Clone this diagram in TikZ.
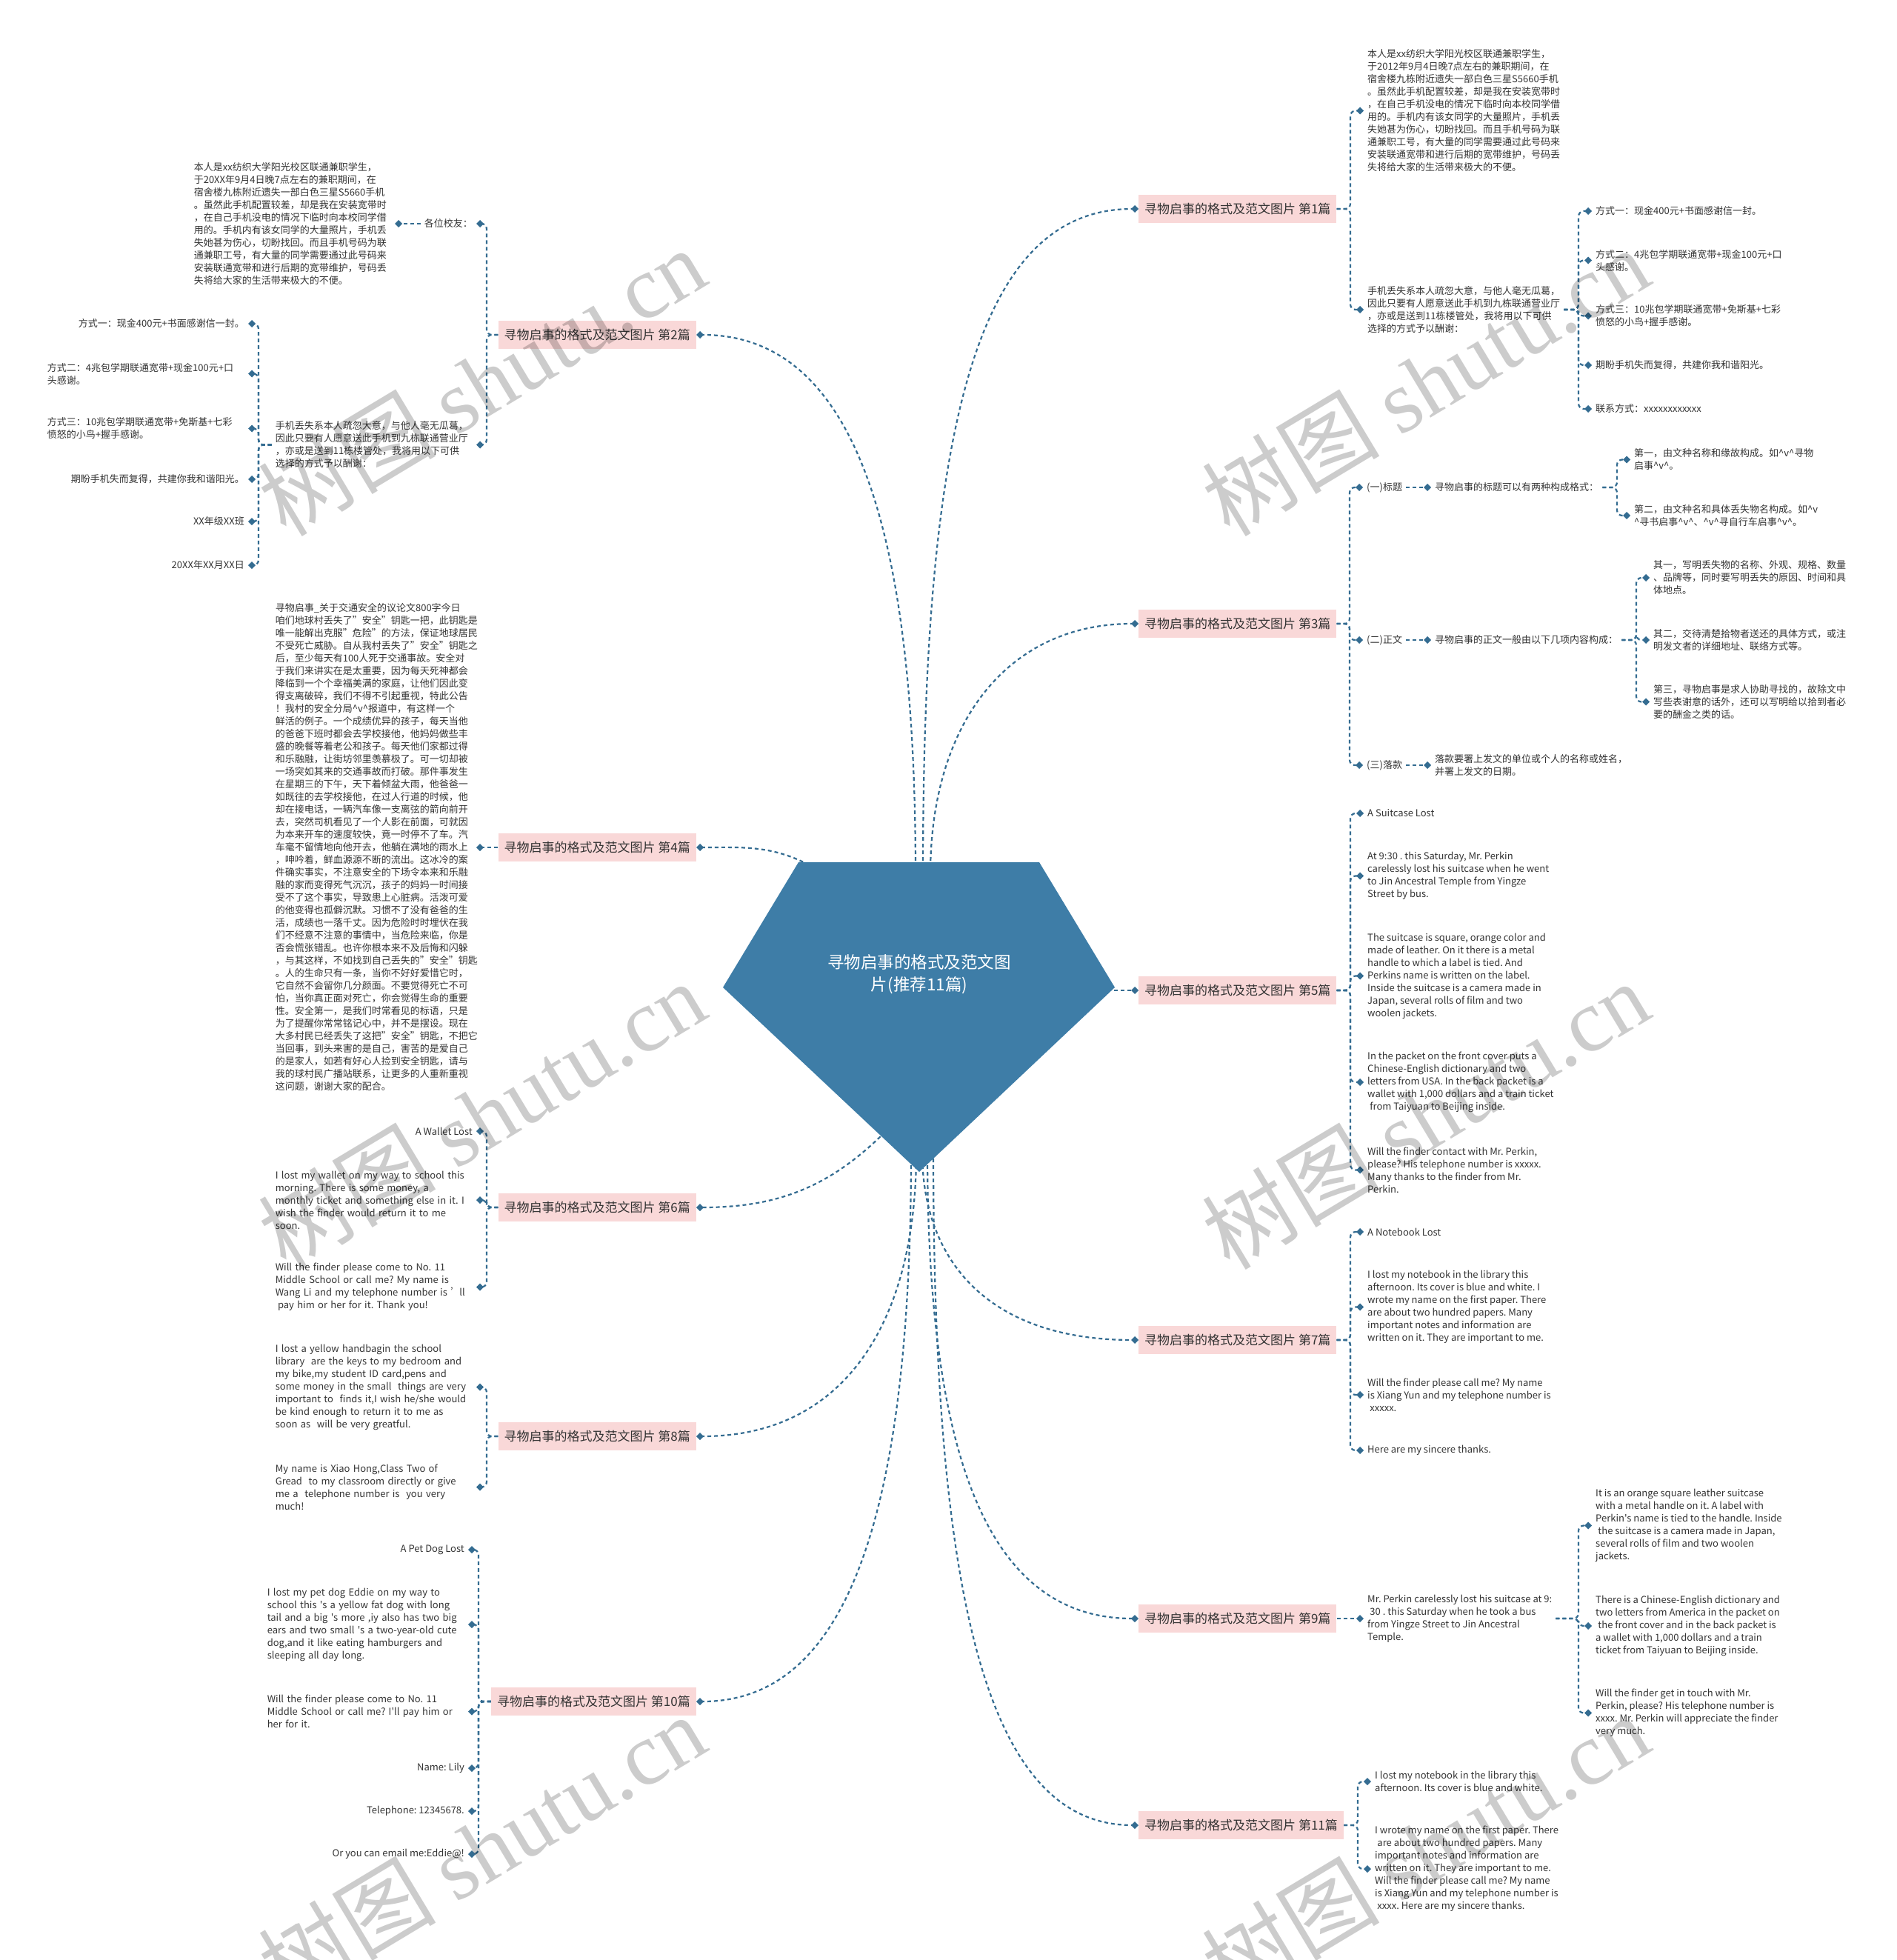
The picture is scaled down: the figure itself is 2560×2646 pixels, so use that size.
\documentclass[tikz,border=0pt]{standalone}
\usepackage{fontspec}
\setmainfont{Noto Sans CJK SC}
\newfontfamily\enfont{Noto Sans CJK SC}[RawFeature=+pwid]
\newfontfamily\wmfont{Liberation Serif}
\usetikzlibrary{arrows.meta}
\definecolor{hubblue}{RGB}{62,125,167}
\definecolor{linkblue}{RGB}{52,108,145}
\definecolor{topicpink}{RGB}{249,216,216}
\definecolor{textgray}{RGB}{51,51,51}
\newcommand{\caretv}{\textasciicircum v\textasciicircum}
\newcommand{\padsp}{\hspace*{0.25em}}
\frenchspacing

\begin{document}
\begin{tikzpicture}[x=1pt,y=1pt]
\tikzstyle{every node}+=[inner sep=0pt]
\tikzstyle{topic}=[fill=topicpink, text=textgray, font=\fontsize{17}{20}\selectfont, minimum height=38pt, inner xsep=8pt]
\tikzstyle{leaf}=[text=textgray, font=\fontsize{13}{17}\selectfont, align=left, inner xsep=5pt, inner ysep=2pt]
\tikzstyle{enleaf}=[leaf, font=\enfont\fontsize{13}{17}\selectfont]
\tikzstyle{lblock}=[text width=266pt]
\tikzstyle{link}=[draw=linkblue, line width=2.2pt, dash pattern=on 5pt off 4pt, rounded corners=7pt, -{Diamond[length=10pt,width=10pt]}]
\tikzstyle{watermark}=[text=black, text opacity=0.2, font=\fontsize{120}{120}\selectfont, rotate=31]
\useasboundingbox (0,0) rectangle (2560,-2646);

% hub corners and link starts
\coordinate (hubtl) at (1078,-1164);
\coordinate (hubtr) at (1403,-1164);
\coordinate (hubr) at (1505,-1333);
\coordinate (hubb) at (1241,-1582);
\coordinate (hubl) at (976,-1333);
\coordinate (up1) at (1246,-1180);
\coordinate (up2) at (1236,-1180);
\coordinate (up3) at (1256,-1180);
\coordinate (up4) at (1100,-1172);
\coordinate (up5) at (1495,-1337);
\coordinate (up6) at (1195,-1528);
\coordinate (dn7) at (1245,-1555);
\coordinate (dn8) at (1237,-1555);
\coordinate (dn9) at (1252,-1555);
\coordinate (dn10) at (1230,-1555);
\coordinate (dn11) at (1260,-1555);

% topics
\foreach \n/\y in {1/-282,3/-842,5/-1337,7/-1809,9/-2185,11/-2464}
  \node[topic, anchor=west] (b\n) at (1537,\y) {寻物启事的格式及范文图片 第\n{}篇};
\foreach \n/\y in {2/-452,4/-1144,6/-1630,8/-1939,10/-2297}
  \node[topic, anchor=east] (b\n) at (940,\y) {寻物启事的格式及范文图片 第\n{}篇};

% branch 1
\node[leaf, anchor=west] (b1a) at (1841,-149.5) {本人是xx纺织大学阳光校区联通兼职学生，\\
  于2012年9月4日晚7点左右的兼职期间，在\\
  宿舍楼九栋附近遗失一部白色三星S5660手机\\
  。虽然此手机配置较差，却是我在安装宽带时\\
  ，在自己手机没电的情况下临时向本校同学借\\
  用的。手机内有该女同学的大量照片，手机丢\\
  失她甚为伤心，切盼找回。而且手机号码为联\\
  通兼职工号，有大量的同学需要通过此号码来\\
  安装联通宽带和进行后期的宽带维护，号码丢\\
  失将给大家的生活带来极大的不便。};
\node[leaf, anchor=west] (b1b) at (1841,-418) {手机丢失系本人疏忽大意，与他人毫无瓜葛，\\
  因此只要有人愿意送此手机到九栋联通营业厅\\
  ，亦或是送到11栋楼管处，我将用以下可供\\
  选择的方式予以酬谢：};
\node[leaf, anchor=west] (b1b1) at (2149,-285) {方式一：现金400元+书面感谢信一封。};
\node[leaf, anchor=west] (b1b2) at (2149,-351.5) {方式二：4兆包学期联通宽带+现金100元+口\\头感谢。};
\node[leaf, anchor=west] (b1b3) at (2149,-426.5) {方式三：10兆包学期联通宽带+免斯基+七彩\\愤怒的小鸟+握手感谢。};
\node[leaf, anchor=west] (b1b4) at (2149,-493) {期盼手机失而复得，共建你我和谐阳光。};
\node[leaf, anchor=west] (b1b5) at (2149,-552) {联系方式：xxxxxxxxxxxx};

% branch 2
\node[leaf, anchor=east] (b2a) at (643,-302) {各位校友：};
\node[leaf, lblock, anchor=east] (b2a1) at (533,-302) {本人是xx纺织大学阳光校区联通兼职学生，\\
  于20XX年9月4日晚7点左右的兼职期间，在\\
  宿舍楼九栋附近遗失一部白色三星S5660手机\\
  。虽然此手机配置较差，却是我在安装宽带时\\
  ，在自己手机没电的情况下临时向本校同学借\\
  用的。手机内有该女同学的大量照片，手机丢\\
  失她甚为伤心，切盼找回。而且手机号码为联\\
  通兼职工号，有大量的同学需要通过此号码来\\
  安装联通宽带和进行后期的宽带维护，号码丢\\
  失将给大家的生活带来极大的不便。};
\node[leaf, lblock, anchor=east] (b2b) at (643,-600.5) {手机丢失系本人疏忽大意，与他人毫无瓜葛，\\
  因此只要有人愿意送此手机到九栋联通营业厅\\
  ，亦或是送到11栋楼管处，我将用以下可供\\
  选择的方式予以酬谢：};
\node[leaf, anchor=east] (b2b1) at (335,-437) {方式一：现金400元+书面感谢信一封。};
\node[leaf, lblock, anchor=east] (b2b2) at (335,-504.5) {方式二：4兆包学期联通宽带+现金100元+口\\头感谢。};
\node[leaf, lblock, anchor=east] (b2b3) at (335,-578.5) {方式三：10兆包学期联通宽带+免斯基+七彩\\愤怒的小鸟+握手感谢。};
\node[leaf, anchor=east] (b2b4) at (335,-647) {期盼手机失而复得，共建你我和谐阳光。};
\node[leaf, anchor=east] (b2b5) at (335,-704) {XX年级XX班};
\node[leaf, anchor=east] (b2b6) at (335,-763) {20XX年XX月XX日};

% branch 3
\node[leaf, anchor=west] (b3a) at (1840,-658) {(一)标题};
\node[leaf, anchor=west] (b3b) at (1840,-864) {(二)正文};
\node[leaf, anchor=west] (b3c) at (1840,-1033) {(三)落款};
\node[leaf, anchor=west] (b3a1) at (1932,-658) {寻物启事的标题可以有两种构成格式：};
\node[leaf, anchor=west] (b3b1) at (1932,-864) {寻物启事的正文一般由以下几项内容构成：};
\node[leaf, anchor=west] (b3c1) at (1932,-1033) {落款要署上发文的单位或个人的名称或姓名，\\并署上发文的日期。};
\node[leaf, anchor=west] (b3a1a) at (2201,-620.5) {第一，由文种名称和缘故构成。如\caretv{}寻物\\启事\caretv{}。};
\node[leaf, anchor=west] (b3a1b) at (2201,-696) {第二，由文种名和具体丢失物名构成。如\textasciicircum{}v\\\textasciicircum{}寻书启事\caretv{}、\caretv{}寻自行车启事\caretv{}。};
\node[leaf, anchor=west] (b3b1a) at (2227,-780) {其一，写明丢失物的名称、外观、规格、数量\\、品牌等，同时要写明丢失的原因、时间和具\\体地点。};
\node[leaf, anchor=west] (b3b1b) at (2227,-864) {其二，交待清楚拾物者送还的具体方式，或注\\明发文者的详细地址、联络方式等。};
\node[leaf, anchor=west] (b3b1c) at (2227,-947.5) {第三，寻物启事是求人协助寻找的，故除文中\\写些表谢意的话外，还可以写明给以拾到者必\\要的酬金之类的话。};

% branch 4
\node[leaf, lblock, anchor=east] (b4a) at (643,-1144) {寻物启事\_关于交通安全的议论文800字今日\\
  咱们地球村丢失了"安全"钥匙一把，此钥匙是\\
  唯一能解出克服"危险"的方法，保证地球居民\\
  不受死亡威胁。自从我村丢失了"安全"钥匙之\\
  后，至少每天有100人死于交通事故。安全对\\
  于我们来讲实在是太重要，因为每天死神都会\\
  降临到一个个幸福美满的家庭，让他们因此变\\
  得支离破碎，我们不得不引起重视，特此公告\\
  ！我村的安全分局\caretv{}报道中，有这样一个\\
  鲜活的例子。一个成绩优异的孩子，每天当他\\
  的爸爸下班时都会去学校接他，他妈妈做些丰\\
  盛的晚餐等着老公和孩子。每天他们家都过得\\
  和乐融融，让街坊邻里羡慕极了。可一切却被\\
  一场突如其来的交通事故而打破。那件事发生\\
  在星期三的下午，天下着倾盆大雨，他爸爸一\\
  如既往的去学校接他，在过人行道的时候，他\\
  却在接电话，一辆汽车像一支离弦的箭向前开\\
  去，突然司机看见了一个人影在前面，可就因\\
  为本来开车的速度较快，竟一时停不了车。汽\\
  车毫不留情地向他开去，他躺在满地的雨水上\\
  ，呻吟着，鲜血源源不断的流出。这冰冷的案\\
  件确实事实，不注意安全的下场令本来和乐融\\
  融的家而变得死气沉沉，孩子的妈妈一时间接\\
  受不了这个事实，导致患上心脏病。活泼可爱\\
  的他变得也孤僻沉默。习惯不了没有爸爸的生\\
  活，成绩也一落千丈。因为危险时时埋伏在我\\
  们不经意不注意的事情中，当危险来临，你是\\
  否会慌张错乱。也许你根本来不及后悔和闪躲\\
  ，与其这样，不如找到自己丢失的"安全"钥匙\\
  。人的生命只有一条，当你不好好爱惜它时，\\
  它自然不会留你几分颜面。不要觉得死亡不可\\
  怕，当你真正面对死亡，你会觉得生命的重要\\
  性。安全第一，是我们时常看见的标语，只是\\
  为了提醒你常常铭记心中，并不是摆设。现在\\
  大多村民已经丢失了这把"安全"钥匙，不把它\\
  当回事，到头来害的是自己，害苦的是爱自己\\
  的是家人，如若有好心人捡到安全钥匙，请与\\
  我的球村民广播站联系，让更多的人重新重视\\
  这问题，谢谢大家的配合。};

% branch 5
\node[enleaf, anchor=west] (b5a) at (1841,-1098) {A Suitcase Lost};
\node[enleaf, anchor=west] (b5b) at (1841,-1182.5) {At 9:30 . this Saturday, Mr. Perkin\\
  carelessly lost his suitcase when he went\\
  to Jin Ancestral Temple from Yingze\\
  Street by bus.};
\node[enleaf, anchor=west] (b5c) at (1841,-1317.5) {The suitcase is square, orange color and\\
  made of leather. On it there is a metal\\
  handle to which a label is tied. And\\
  Perkins name is written on the label.\\
  Inside the suitcase is a camera made in\\
  Japan, several rolls of film and two\\
  woolen jackets.};
\node[enleaf, anchor=west] (b5d) at (1841,-1461) {In the packet on the front cover puts a\\
  Chinese-English dictionary and two\\
  letters from USA. In the back packet is a\\
  wallet with 1,000 dollars and a train ticket\\
  \padsp from Taiyuan to Beijing inside.};
\node[enleaf, anchor=west] (b5e) at (1841,-1579.5) {Will the finder contact with Mr. Perkin,\\
  please? His telephone number is xxxxx.\\
  Many thanks to the finder from Mr.\\
  Perkin.};

% branch 6
\node[enleaf, anchor=east] (b6a) at (643,-1527) {A Wallet Lost};
\node[enleaf, lblock, anchor=east] (b6b) at (643,-1620) {I lost my wallet on my way to school this\\
  morning. There is some money, a\\
  monthly ticket and something else in it. I\\
  wish the finder would return it to me\\
  soon.};
\node[enleaf, lblock, anchor=east] (b6c) at (643,-1737.5) {Will the finder please come to No. 11\\
  Middle School or call me? My name is\\
  Wang Li and my telephone number is ’\ \ ll\\
  \padsp pay him or her for it. Thank you!};

% branch 7
\node[enleaf, anchor=west] (b7a) at (1841,-1663) {A Notebook Lost};
\node[enleaf, anchor=west] (b7b) at (1841,-1764.5) {I lost my notebook in the library this\\
  afternoon. Its cover is blue and white. I\\
  wrote my name on the first paper. There\\
  are about two hundred papers. Many\\
  important notes and information are\\
  written on it. They are important to me.};
\node[enleaf, anchor=west] (b7c) at (1841,-1883) {Will the finder please call me? My name\\
  is Xiang Yun and my telephone number is\\
  \padsp xxxxx.};
\node[enleaf, anchor=west] (b7d) at (1841,-1958) {Here are my sincere thanks.};

% branch 8
\node[enleaf, lblock, anchor=east] (b8a) at (643,-1872.5) {I lost a yellow handbagin the school\\
  library\ \ are the keys to my bedroom and\\
  my bike,my student ID card,pens and\\
  some money in the small\ \ things are very\\
  important to\ \ finds it,I wish he/she would\\
  be kind enough to return it to me as\\
  soon as\ \ will be very greatful.};
\node[enleaf, lblock, anchor=east] (b8b) at (643,-2007.5) {My name is Xiao Hong,Class Two of\\
  Gread\ \ to my classroom directly or give\\
  me a\ \ telephone number is\ \ you very\\
  much!};

% branch 9
\node[enleaf, anchor=west] (b9a) at (1841,-2185) {Mr. Perkin carelessly lost his suitcase at 9:\\
  \padsp 30 . this Saturday when he took a bus\\
  from Yingze Street to Jin Ancestral\\
  Temple.};
\node[enleaf, anchor=west] (b9a1) at (2149,-2059.5) {It is an orange square leather suitcase\\
  with a metal handle on it. A label with\\
  Perkin's name is tied to the handle. Inside\\
  \padsp the suitcase is a camera made in Japan,\\
  several rolls of film and two woolen\\
  jackets.};
\node[enleaf, anchor=west] (b9a2) at (2149,-2195) {There is a Chinese-English dictionary and\\
  two letters from America in the packet on\\
  \padsp the front cover and in the back packet is\\
  a wallet with 1,000 dollars and a train\\
  ticket from Taiyuan to Beijing inside.};
\node[enleaf, anchor=west] (b9a3) at (2149,-2312.5) {Will the finder get in touch with Mr.\\
  Perkin, please? His telephone number is\\
  xxxx. Mr. Perkin will appreciate the finder\\
  very much.};

% branch 10
\node[enleaf, anchor=east] (b10a) at (632,-2092) {A Pet Dog Lost};
\node[enleaf, lblock, anchor=east] (b10b) at (632,-2193) {I lost my pet dog Eddie on my way to\\
  school this 's a yellow fat dog with long\\
  tail and a big 's more ,iy also has two big\\
  ears and two small 's a two-year-old cute\\
  dog,and it like eating hamburgers and\\
  sleeping all day long.};
\node[enleaf, lblock, anchor=east] (b10c) at (632,-2310.5) {Will the finder please come to No. 11\\
  Middle School or call me? I'll pay him or\\
  her for it.};
\node[enleaf, anchor=east] (b10d) at (632,-2387) {Name: Lily};
\node[enleaf, anchor=east] (b10e) at (632,-2445) {Telephone: 12345678.};
\node[enleaf, anchor=east] (b10f) at (632,-2503) {Or you can email me:Eddie@!};

% branch 11
\node[enleaf, anchor=west] (b11a) at (1851,-2405) {I lost my notebook in the library this\\
  afternoon. Its cover is blue and white.};
\node[enleaf, anchor=west] (b11b) at (1851,-2523) {I wrote my name on the first paper. There\\
  \padsp are about two hundred papers. Many\\
  important notes and information are\\
  written on it. They are important to me.\\
  Will the finder please call me? My name\\
  is Xiang Yun and my telephone number is\\
  \padsp xxxx. Here are my sincere thanks.};

% links from the hub
\draw[link] (up1) to[out=90,in=180,out distance=600pt,in distance=220pt] (b1);
\draw[link] (up2) to[out=90,in=0,out distance=450pt,in distance=220pt] (b2);
\draw[link] (up3) to[out=90,in=180,out distance=200pt,in distance=180pt] (b3);
\draw[link] (up4) to[out=150,in=0] (b4);
\draw[link] (up5) -- (b5);
\draw[link] (up6) to[out=225,in=0] (b6);
\draw[link] (dn7) to[out=-90,in=180,out distance=150pt,in distance=200pt] (b7);
\draw[link] (dn8) to[out=-90,in=0,out distance=230pt,in distance=200pt] (b8);
\draw[link] (dn9) to[out=-90,in=180,out distance=420pt,in distance=200pt] (b9);
\draw[link] (dn10) to[out=-90,in=0,out distance=500pt,in distance=200pt] (b10);
\draw[link] (dn11) to[out=-90,in=180,out distance=620pt,in distance=200pt] (b11);

% forks to the right
\foreach \k in {b1a,b1b} \draw[link] (b1.east) -| ([xshift=-18pt]\k.west) -- (\k);
\foreach \k in {b1b1,b1b2,b1b3,b1b4,b1b5} \draw[link] (b1b.east) -| ([xshift=-18pt]\k.west) -- (\k);
\foreach \k in {b3a,b3b,b3c} \draw[link] (b3.east) -| ([xshift=-18pt]\k.west) -- (\k);
\foreach \k in {b3a1a,b3a1b} \draw[link] (b3a1.east) -| ([xshift=-18pt]\k.west) -- (\k);
\foreach \k in {b3b1a,b3b1b,b3b1c} \draw[link] (b3b1.east) -| ([xshift=-18pt]\k.west) -- (\k);
\foreach \k in {b5a,b5b,b5c,b5d,b5e} \draw[link] (b5.east) -| ([xshift=-18pt]\k.west) -- (\k);
\foreach \k in {b7a,b7b,b7c,b7d} \draw[link] (b7.east) -| ([xshift=-18pt]\k.west) -- (\k);
\foreach \k in {b9a1,b9a2,b9a3} \draw[link] (b9a.east) -| ([xshift=-18pt]\k.west) -- (\k);
\foreach \k in {b11a,b11b} \draw[link] (b11.east) -| ([xshift=-18pt]\k.west) -- (\k);
\draw[link] (b3a) -- (b3a1);
\draw[link] (b3b) -- (b3b1);
\draw[link] (b3c) -- (b3c1);
\draw[link] (b9) -- (b9a);

% forks to the left
\foreach \k in {b2a,b2b} \draw[link] (b2.west) -| ([xshift=14pt]\k.east) -- (\k);
\foreach \k in {b2b1,b2b2,b2b3,b2b4,b2b5,b2b6} \draw[link] (b2b.west) -| ([xshift=14pt]\k.east) -- (\k);
\foreach \k in {b6a,b6b,b6c} \draw[link] (b6.west) -| ([xshift=14pt]\k.east) -- (\k);
\foreach \k in {b8a,b8b} \draw[link] (b8.west) -| ([xshift=14pt]\k.east) -- (\k);
\foreach \k in {b10a,b10b,b10c,b10d,b10e,b10f} \draw[link] (b10.west) -| ([xshift=14pt]\k.east) -- (\k);
\draw[link] (b2a) -- (b2a1);
\draw[link] (b4) -- (b4a);

% hub
\fill[hubblue] (hubtl) -- (hubtr) -- (hubr) -- (hubb) -- (hubl) -- cycle;
\node[text=white, align=center, font=\fontsize{22.5}{30}\selectfont] (title) at (1241,-1315) {寻物启事的格式及范文图\\片(推荐11篇)};

% watermarks
\foreach \wx in {650,1924} \foreach \wy in {-515,-1505,-2495}
  \node[watermark] (wm\wx\wy) at (\wx,\wy) {树图 {\wmfont shutu.cn}};
\end{tikzpicture}
\end{document}
